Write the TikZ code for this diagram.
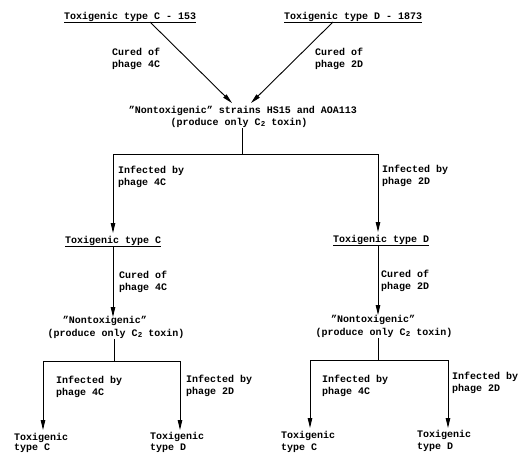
\documentclass[tikz,border=0pt]{standalone}
\usepackage{fontspec}
\setmainfont{Liberation Mono}
\usetikzlibrary{arrows.meta}
\newcommand{\subtwo}{\raisebox{-1.8pt}{\fontsize{7.5pt}{8pt}\selectfont 2}}
\newcommand{\dq}{\symbol{34}}
\begin{document}
\begin{tikzpicture}[x=1pt,y=-1pt,
  txt/.style={anchor=base west,inner sep=0pt,font=\fontsize{10pt}{12pt}\selectfont\bfseries},
  ctxt/.style={anchor=base,inner sep=0pt,font=\fontsize{10pt}{12pt}\selectfont\bfseries},
  ln/.style={line width=0.9pt},
  arr/.style={line width=0.9pt,-{Triangle[length=10pt,width=4.5pt]}},
  uline/.style={line width=0.8pt}]
\useasboundingbox (0,0) rectangle (518,453);
% top
\node[txt] (t1) at (64,19) {Toxigenic type C - 153};
\node[txt] (t2) at (284,19) {Toxigenic type D - 1873};
\draw[uline] ([yshift=-3pt]t1.base west) -- ([yshift=-3pt]t1.base east);
\draw[uline] ([yshift=-3pt]t2.base west) -- ([yshift=-3pt]t2.base east);
\node[txt] (c1a) at (112,55) {Cured of};
\node[txt] (c1b) at (112,67) {phage 4C};
\node[txt] (c2a) at (315,55) {Cured of};
\node[txt] (c2b) at (315,67) {phage 2D};
\node[ctxt] (n1) at (243,113) {\dq Nontoxigenic\dq{} strains HS15 and AOA113};
\node[ctxt] (n2) at (239,125) {(produce only C\subtwo{} toxin)};
\coordinate (s1) at (150,22);
\coordinate (e1) at (232,103);
\coordinate (s2) at (333,22);
\coordinate (e2) at (251,103);
\draw[arr] (s1) -- (e1);
\draw[arr] (s2) -- (e2);
% first split
\coordinate (b0) at (242,128);
\coordinate (j0) at (242,154);
\coordinate (jl) at (113,154);
\coordinate (jr) at (378,154);
\coordinate (tl) at (113,233);
\coordinate (tr) at (378,232);
\draw[ln] (b0) -- (j0);
\draw[ln] (jl) -- (jr);
\draw[arr] (jl) -- (tl);
\draw[arr] (jr) -- (tr);
\node[txt] (i1a) at (118,173) {Infected by};
\node[txt] (i1b) at (118,185) {phage 4C};
\node[txt] (i2a) at (382,172) {Infected by};
\node[txt] (i2b) at (382,184) {phage 2D};
% second level
\node[txt] (tc) at (65,243) {Toxigenic type C};
\node[txt] (td) at (333,242) {Toxigenic type D};
\draw[uline] ([yshift=-3pt]tc.base west) -- ([yshift=-3pt]tc.base east);
\draw[uline] ([yshift=-3pt]td.base west) -- ([yshift=-3pt]td.base east);
\coordinate (tcs) at (113,246);
\coordinate (tce) at (113,317);
\coordinate (tds) at (378,246);
\coordinate (tde) at (378,315);
\draw[arr] (tcs) -- (tce);
\draw[arr] (tds) -- (tde);
\node[txt] (c3a) at (119,278) {Cured of};
\node[txt] (c3b) at (119,290) {phage 4C};
\node[txt] (c4a) at (381,277) {Cured of};
\node[txt] (c4b) at (381,289) {phage 2D};
\node[ctxt] (nl1) at (105,323) {\dq Nontoxigenic\dq};
\node[ctxt] (nl2) at (116,336) {(produce only C\subtwo{} toxin)};
\node[ctxt] (nr1) at (373,322) {\dq Nontoxigenic\dq};
\node[ctxt] (nr2) at (384,335) {(produce only C\subtwo{} toxin)};
% third level left
\coordinate (lb) at (114,339);
\coordinate (lj) at (114,361);
\coordinate (ljl) at (43,361);
\coordinate (ljr) at (180,361);
\coordinate (ltl) at (43,430);
\coordinate (ltr) at (180,430);
\draw[ln] (lb) -- (lj);
\draw[ln] (ljl) -- (ljr);
\draw[arr] (ljl) -- (ltl);
\draw[arr] (ljr) -- (ltr);
\node[txt] (li1a) at (56,383) {Infected by};
\node[txt] (li1b) at (56,395) {phage 4C};
\node[txt] (li2a) at (186,382) {Infected by};
\node[txt] (li2b) at (186,394) {phage 2D};
\node[txt] (lb1a) at (14,440) {Toxigenic};
\node[txt] (lb1b) at (14,450.5) {type C};
\node[txt] (lb2a) at (150,439) {Toxigenic};
\node[txt] (lb2b) at (150,450.5) {type D};
% third level right
\coordinate (rb) at (378,338);
\coordinate (rj) at (378,360);
\coordinate (rjl) at (310,360);
\coordinate (rjr) at (448,360);
\coordinate (rtl) at (310,428);
\coordinate (rtr) at (448,428);
\draw[ln] (rb) -- (rj);
\draw[ln] (rjl) -- (rjr);
\draw[arr] (rjl) -- (rtl);
\draw[arr] (rjr) -- (rtr);
\node[txt] (ri1a) at (322,382) {Infected by};
\node[txt] (ri1b) at (322,394) {phage 4C};
\node[txt] (ri2a) at (452,379) {Infected by};
\node[txt] (ri2b) at (452,391) {phage 2D};
\node[txt] (rb1a) at (281,438) {Toxigenic};
\node[txt] (rb1b) at (281,450) {type C};
\node[txt] (rb2a) at (417,437) {Toxigenic};
\node[txt] (rb2b) at (417,449) {type D};
\end{tikzpicture}
\end{document}
